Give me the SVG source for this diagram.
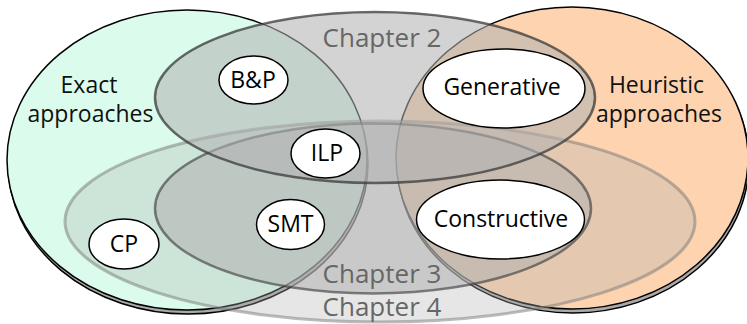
<svg xmlns="http://www.w3.org/2000/svg" width="747" height="324" viewBox="0 0 747 324">
  <style>
    .label { font-family: "Open Sans", "Noto Sans", "DejaVu Sans", sans-serif; text-anchor: middle; }
    .side { font-size: 23px; fill: #111; }
    .chapter-label { font-size: 26px; fill: #666; }
    .node-label { font-size: 23px; fill: #000; }
    .shadow { fill: #a9a9a9; stroke: #000; stroke-width: 1.5; }
    .approach { stroke: #000; stroke-width: 1.5; }
    .chapter { fill: #b2b2b2; }
    .node-shape { fill: #fff; stroke: #000; stroke-width: 1.5; }
  </style>

  <!-- approach families: large ellipses with a drop shadow -->
  <g id="exact-approaches">
    <ellipse class="shadow" cx="188" cy="164" rx="180" ry="150"/>
    <ellipse class="approach" cx="187" cy="160" rx="180" ry="150" fill="#dbfcec"/>
  </g>
  <g id="heuristic-approaches">
    <ellipse class="shadow" cx="573" cy="162" rx="176" ry="151"/>
    <ellipse class="approach" cx="572" cy="158" rx="176" ry="151" fill="#fdd3b0"/>
  </g>

  <!-- chapter scopes: translucent grey ellipses -->
  <g id="chapter-4">
    <ellipse class="chapter" cx="380" cy="221.5" rx="315" ry="100.5" fill-opacity="0.32" stroke="#777" stroke-opacity="0.5" stroke-width="3"/>
  </g>
  <g id="chapter-3">
    <ellipse class="chapter" cx="373" cy="208.5" rx="218" ry="85" fill-opacity="0.56" stroke="#3a3a3a" stroke-opacity="0.62" stroke-width="2.5"/>
  </g>
  <g id="chapter-2">
    <ellipse class="chapter" cx="375" cy="97.5" rx="220" ry="85.5" fill-opacity="0.57" stroke="#3a3a3a" stroke-opacity="0.75" stroke-width="2.5"/>
  </g>

  <!-- set labels -->
  <g id="set-labels" class="label">
    <text class="side" x="89" y="93">Exact</text>
    <text class="side" x="90.5" y="122">approaches</text>
    <text class="side" x="656.5" y="93">Heuristic</text>
    <text class="side" x="659" y="122">approaches</text>
    <text class="chapter-label" x="382" y="47">Chapter 2</text>
    <text class="chapter-label" x="382" y="283">Chapter 3</text>
    <text class="chapter-label" x="382" y="316">Chapter 4</text>
  </g>

  <!-- methods -->
  <g id="node-bp">
    <ellipse class="node-shape" cx="253.5" cy="80" rx="34.5" ry="24"/>
    <text class="label node-label" x="253" y="87.5">B&amp;P</text>
  </g>
  <g id="node-ilp">
    <ellipse class="node-shape" cx="325.5" cy="153.5" rx="34.5" ry="24.5"/>
    <text class="label node-label" x="327" y="161">ILP</text>
  </g>
  <g id="node-smt">
    <ellipse class="node-shape" cx="290.5" cy="224.5" rx="34" ry="25"/>
    <text class="label node-label" x="290.5" y="232">SMT</text>
  </g>
  <g id="node-cp">
    <ellipse class="node-shape" cx="124" cy="244" rx="35" ry="25"/>
    <text class="label node-label" x="124" y="251.5">CP</text>
  </g>
  <g id="node-generative">
    <ellipse class="node-shape" cx="504" cy="88.5" rx="81" ry="39.5"/>
    <text class="label node-label" x="502" y="95">Generative</text>
  </g>
  <g id="node-constructive">
    <ellipse class="node-shape" cx="500.5" cy="219.5" rx="84" ry="39.5"/>
    <text class="label node-label" x="501" y="227">Constructive</text>
  </g>

  <g id="connectors"/>
</svg>
